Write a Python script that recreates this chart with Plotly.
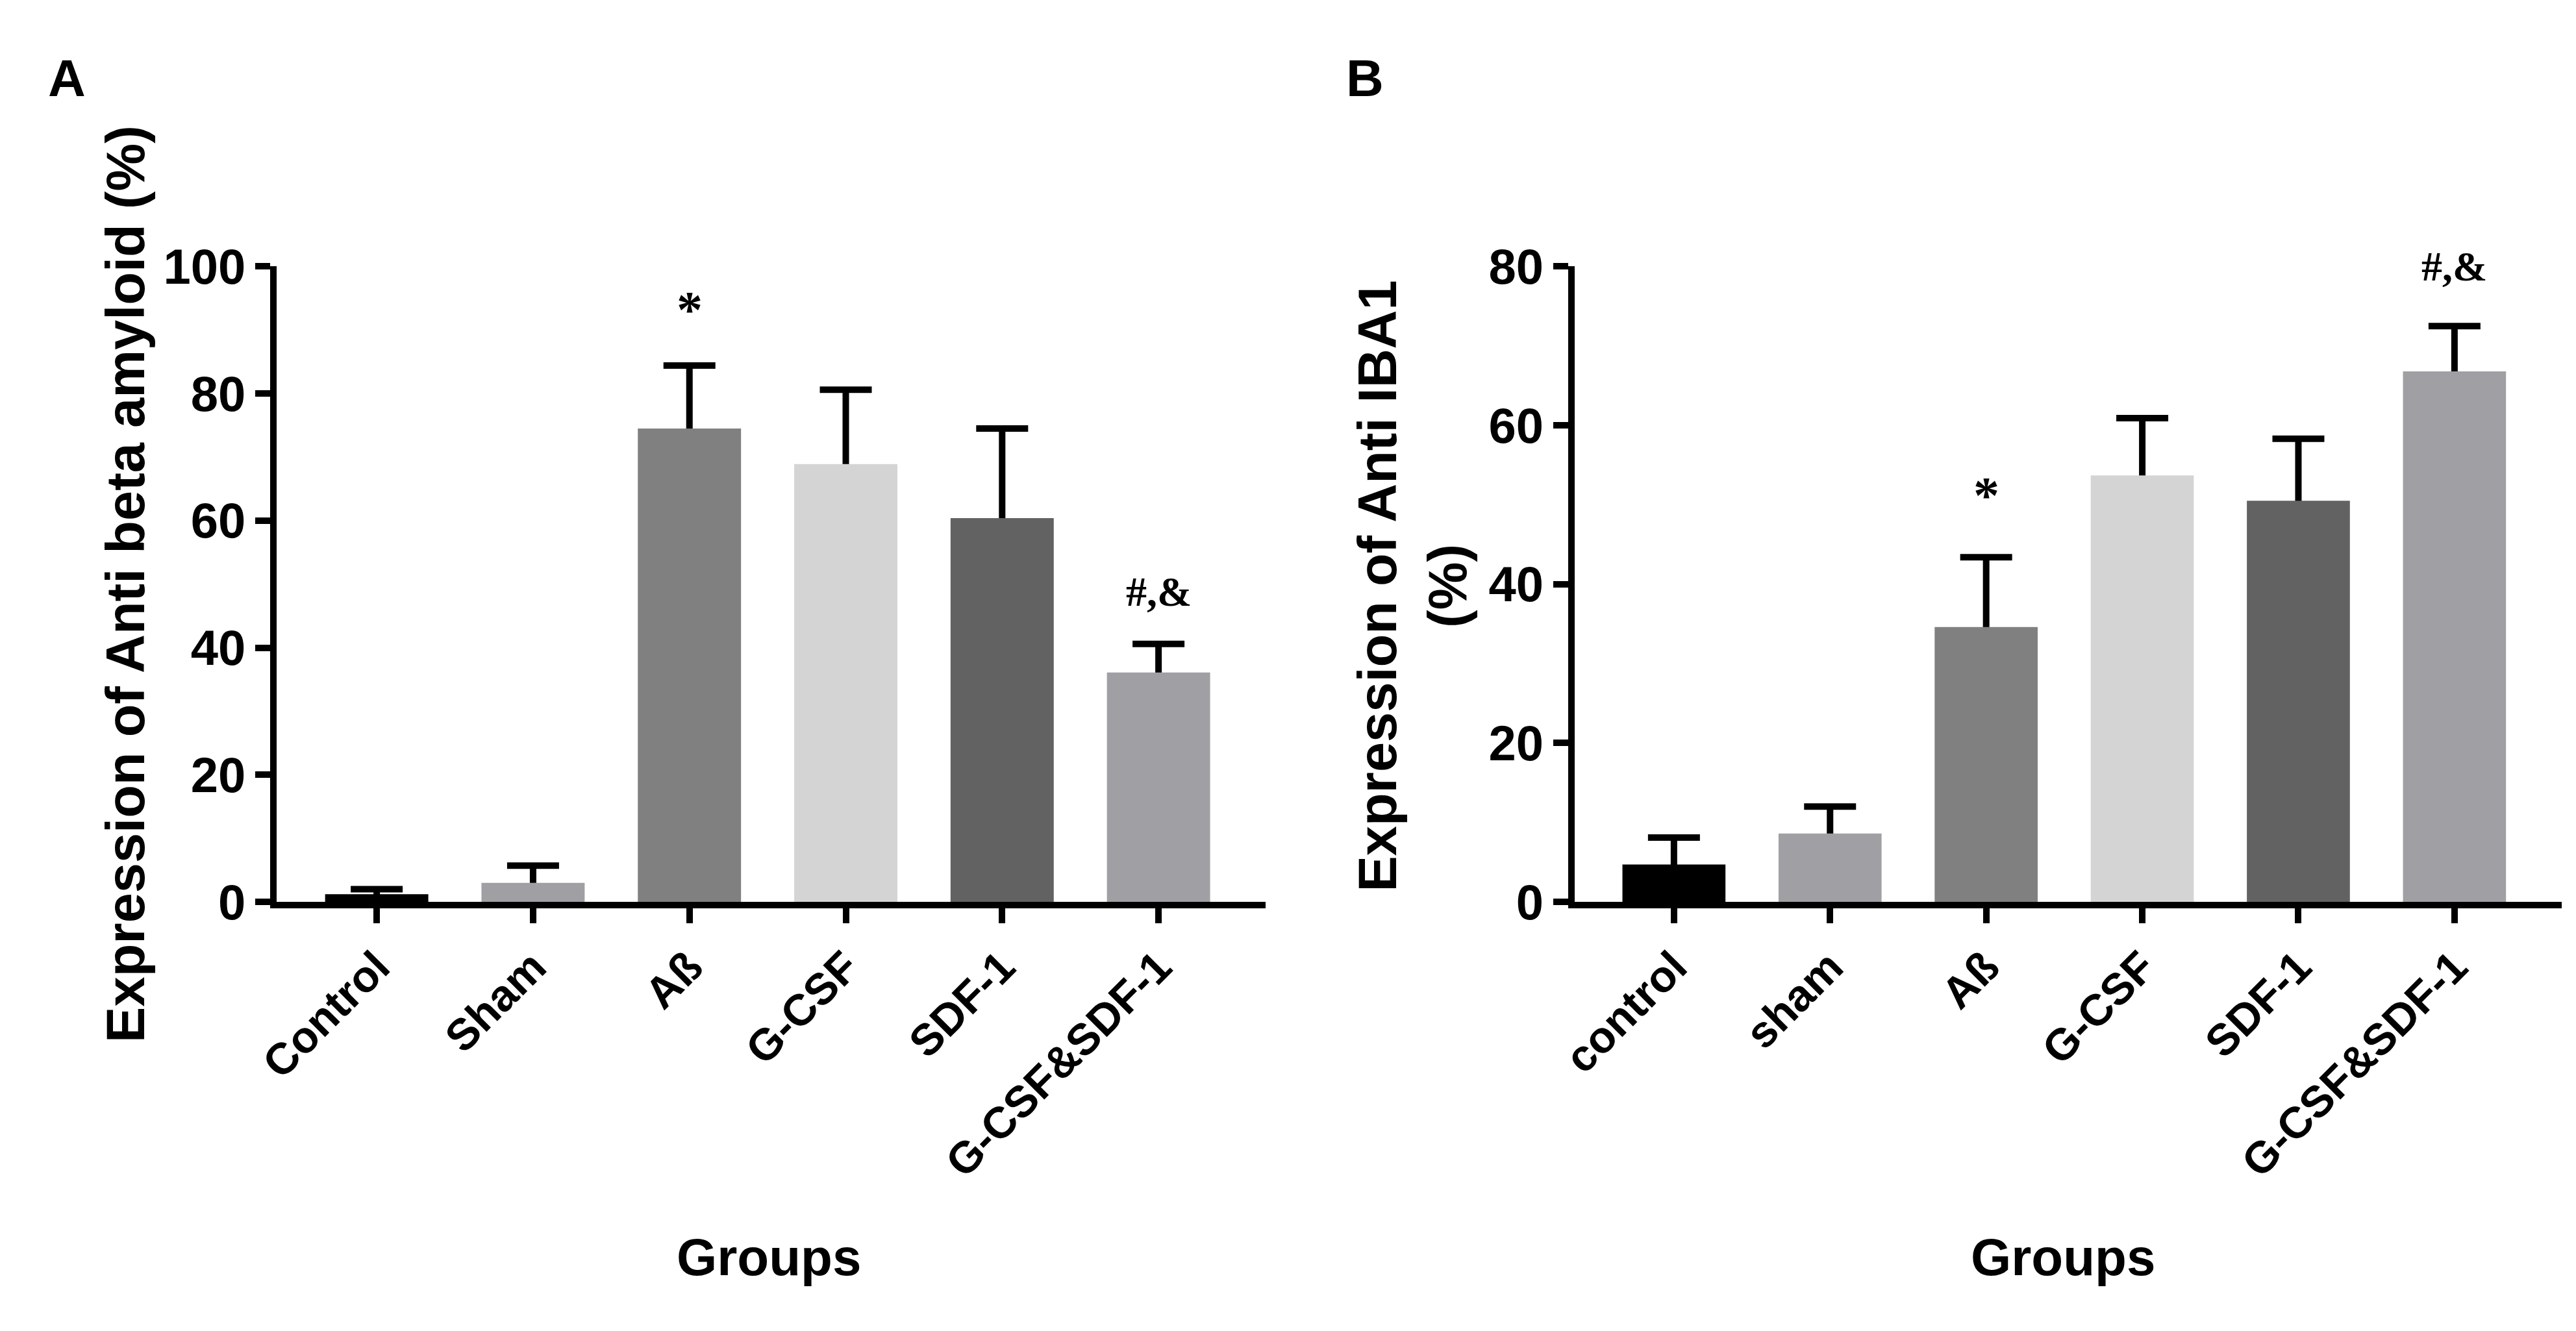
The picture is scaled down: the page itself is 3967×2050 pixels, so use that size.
import plotly.graph_objects as go

W, H = 3967, 2050

# data
groups_a = ["Control", "Sham", "Aß", "G-CSF", "SDF-1", "G-CSF&SDF-1"]
groups_b = ["control", "sham", "Aß", "G-CSF", "SDF-1", "G-CSF&SDF-1"]
mean_a = [1.2, 3.0, 74.5, 68.9, 60.4, 36.1]
sem_a = [0.8, 2.7, 9.9, 11.7, 14.1, 4.5]
mean_b = [4.7, 8.6, 34.6, 53.7, 50.5, 66.8]
sem_b = [3.4, 3.4, 8.8, 7.2, 7.8, 5.7]
marks_a = ["", "", "*", "", "", "#,&"]
marks_b = ["", "", "*", "", "", "#,&"]
yticks_a = [0, 20, 40, 60, 80, 100]
yticks_b = [0, 20, 40, 60, 80]

bar_colors = ["#000000", "#a0a0a4", "#808080", "#d4d4d4", "#626262", "#a0a0a4"]

SANS = "Liberation Sans, Arial, sans-serif"
SERIF = "Liberation Serif, Times New Roman, serif"
# pixel lift of the significance marks above the error caps
mark_style_a = {"*": (80, 86), "#,&": (64, 80)}
mark_style_b = {"*": (80, 95), "#,&": (64, 92)}


def fx(p):
    return p / W


def fy(p):
    return 1 - p / H


fig = go.Figure()

panels = [
    ("x", "y", groups_a, mean_a, sem_a, marks_a, mark_style_a),
    ("x2", "y2", groups_b, mean_b, sem_b, marks_b, mark_style_b),
]
annotations = []
for xa, ya, groups, means, sems, marks, mstyle in panels:
    pos = list(range(len(groups)))
    # error bars first (one sided, stem hidden under the bars drawn next)
    fig.add_trace(go.Bar(
        x=pos, y=means, xaxis=xa, yaxis=ya, width=0.66,
        marker=dict(color="rgba(0,0,0,0)", line=dict(width=0)),
        error_y=dict(type="data", symmetric=False, array=sems, arrayminus=means,
                     color="black", thickness=10, width=40),
        hoverinfo="skip",
    ))
    fig.add_trace(go.Bar(
        x=pos, y=means, xaxis=xa, yaxis=ya, width=0.66,
        marker=dict(color=bar_colors, line=dict(width=0)),
    ))
    for i, m in enumerate(marks):
        if m:
            size, shift = mstyle[m]
            annotations.append(dict(
                x=pos[i], y=means[i] + sems[i], xref=xa, yref=ya, text=m,
                showarrow=False, yanchor="middle", yshift=shift,
                font=dict(family=SERIF, size=size, color="black", weight="bold"),
            ))

axis_common = dict(
    showline=True, linecolor="black", linewidth=10,
    ticks="outside", ticklen=23, tickwidth=10, tickcolor="black",
    showgrid=False, zeroline=False, fixedrange=True,
)
ydom = [fy(1397), fy(376)]

fig.update_layout(
    width=W, height=H, margin=dict(l=0, r=0, t=0, b=0),
    paper_bgcolor="white", plot_bgcolor="white",
    showlegend=False, barmode="overlay",
    xaxis=dict(domain=[fx(386), fx(1922)], range=[-0.638, 5.683], anchor="y",
               tickvals=list(range(6)), ticktext=groups_a, tickangle=-45,
               tickfont=dict(family=SANS, size=68, color="black", weight="bold"),
               **axis_common),
    yaxis=dict(domain=ydom, range=[0, 100], anchor="x", tickvals=yticks_a,
               tickfont=dict(family=SANS, size=76, color="black", weight="bold"),
               **axis_common),
    xaxis2=dict(domain=[fx(2403), fx(3937)], range=[-0.635, 5.688], anchor="y2",
                tickvals=list(range(6)), ticktext=groups_b, tickangle=-45,
                tickfont=dict(family=SANS, size=68, color="black", weight="bold"),
                **axis_common),
    yaxis2=dict(domain=ydom, range=[0, 80], anchor="x2", tickvals=yticks_b,
                tickfont=dict(family=SANS, size=76, color="black", weight="bold"),
                **axis_common),
)

title_font = dict(family=SANS, size=83, color="black", weight="bold")
annotations += [
    dict(text="A", x=fx(28), y=fy(74), xanchor="left", yanchor="middle",
         font=dict(family=SANS, size=80, color="black", weight="bold")),
    dict(text="B", x=fx(2046), y=fy(74), xanchor="left", yanchor="middle",
         font=dict(family=SANS, size=80, color="black", weight="bold")),
    dict(text="Expression of Anti beta amyloid (%)", x=fx(151), y=fy(886),
         textangle=-90, xanchor="center", yanchor="middle", font=title_font),
    dict(text="Expression of Anti IBA1<br>(%)", x=fx(2151), y=fy(889),
         textangle=-90, xanchor="center", yanchor="middle", font=title_font),
    dict(text="Groups", x=fx(1150), y=fy(1968), xanchor="center", yanchor="middle",
         font=dict(family=SANS, size=80, color="black", weight="bold")),
    dict(text="Groups", x=fx(3162), y=fy(1968), xanchor="center", yanchor="middle",
         font=dict(family=SANS, size=80, color="black", weight="bold")),
]
for a in annotations:
    a.setdefault("xref", "paper")
    a.setdefault("yref", "paper")
    a.setdefault("showarrow", False)
fig.update_layout(annotations=annotations)

fig.write_html("out.html")
